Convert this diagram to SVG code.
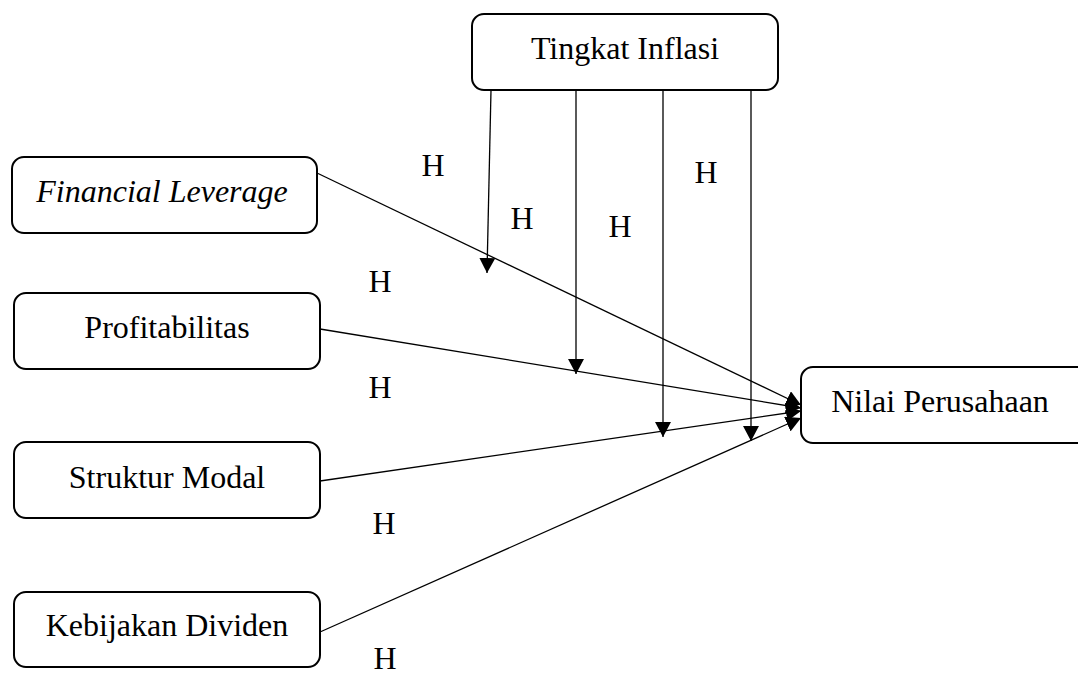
<svg xmlns="http://www.w3.org/2000/svg" width="1078" height="677" viewBox="0 0 1078 677">
<style>
.box{fill:#fff;stroke:#000;stroke-width:2}
.t{font-family:"Liberation Serif","Times New Roman",serif;font-size:32px;fill:#000}
.c{stroke:#000;stroke-width:1.3;fill:none}
</style>
<defs>
<marker id="ah2" viewBox="0 0 15 16" refX="15" refY="8" markerWidth="15" markerHeight="16" markerUnits="userSpaceOnUse" orient="auto">
<path d="M0,0 L15,8 L0,16 Z" fill="#000"/>
</marker>
</defs>
<rect width="1078" height="677" fill="#fff"/>
<g id="connectors">
<line class="c" x1="317" y1="173" x2="801" y2="405" marker-end="url(#ah2)"/>
<line class="c" x1="320" y1="329" x2="801" y2="408" marker-end="url(#ah2)"/>
<line class="c" x1="320" y1="481" x2="801" y2="411" marker-end="url(#ah2)"/>
<line class="c" x1="320" y1="632" x2="801" y2="418" marker-end="url(#ah2)"/>
<line class="c" x1="491" y1="90" x2="487" y2="273" marker-end="url(#ah2)"/>
<line class="c" x1="576" y1="90" x2="576" y2="374" marker-end="url(#ah2)"/>
<line class="c" x1="663" y1="90" x2="663" y2="437" marker-end="url(#ah2)"/>
<line class="c" x1="751" y1="90" x2="751" y2="441" marker-end="url(#ah2)"/>
</g>
<g id="n-inflasi">
<rect class="box" x="472" y="14" width="306" height="76" rx="12"/>
<text class="t" x="625" y="59" text-anchor="middle">Tingkat Inflasi</text>
</g>
<g id="n-fl">
<rect class="box" x="12" y="157" width="305" height="76" rx="12"/>
<text class="t" x="162" y="202" text-anchor="middle" font-style="italic">Financial Leverage</text>
</g>
<g id="n-prof">
<rect class="box" x="14" y="293" width="306" height="76" rx="12"/>
<text class="t" x="167" y="338" text-anchor="middle">Profitabilitas</text>
</g>
<g id="n-sm">
<rect class="box" x="14" y="442" width="306" height="76" rx="12"/>
<text class="t" x="167" y="488" text-anchor="middle">Struktur Modal</text>
</g>
<g id="n-kd">
<rect class="box" x="14" y="592" width="306" height="75" rx="12"/>
<text class="t" x="167" y="636" text-anchor="middle">Kebijakan Dividen</text>
</g>
<g id="n-nilai">
<rect class="box" x="801" y="367" width="290" height="76" rx="12"/>
<text class="t" x="940" y="412" text-anchor="middle">Nilai Perusahaan</text>
</g>
<g id="labels">
<text class="t" x="433" y="176" text-anchor="middle">H</text>
<text class="t" x="522" y="229" text-anchor="middle">H</text>
<text class="t" x="620" y="237" text-anchor="middle">H</text>
<text class="t" x="706" y="183" text-anchor="middle">H</text>
<text class="t" x="380" y="292" text-anchor="middle">H</text>
<text class="t" x="380" y="398" text-anchor="middle">H</text>
<text class="t" x="384" y="534" text-anchor="middle">H</text>
<text class="t" x="385" y="669" text-anchor="middle">H</text>
</g>
</svg>
